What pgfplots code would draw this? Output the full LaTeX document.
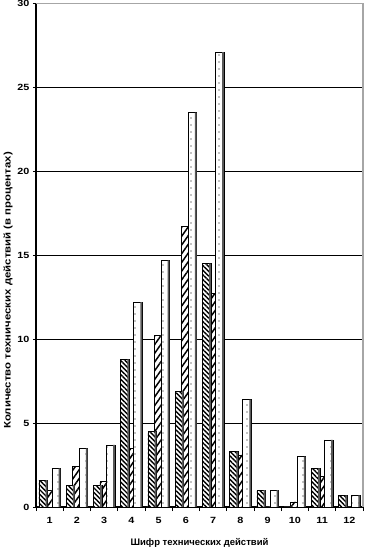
\documentclass[border=0pt]{standalone}
\usepackage{pgfplots}
\pgfplotsset{compat=1.18}
\usetikzlibrary{patterns.meta}
\usepackage{fontspec}
\setmainfont{Liberation Sans}
\newfontfamily\widefont{Liberation Sans}[FakeStretch=1.2]

\pgfplotstableread{
cat s1 s2 s3
1 1.6 1.0 2.3
2 1.3 2.4 3.5
3 1.3 1.5 3.7
4 8.8 3.5 12.2
5 4.5 10.2 14.7
6 6.9 16.7 23.5
7 14.5 12.7 27.1
8 3.3 3.1 6.4
9 1.0 0 1.0
10 0 0.3 3.0
11 2.3 1.8 4.0
12 0.7 0 0.7
}\datatable

\begin{document}
\begin{tikzpicture}
\path[use as bounding box] (-36pt,-41pt) rectangle (328pt,507pt);
\begin{axis}[
  at={(0,0)}, anchor=south west,
  scale only axis, width=327pt, height=503.5pt,
  xmin=0.5, xmax=12.5, ymin=0, ymax=30,
  axis lines=left, axis line style={-, black, line width=1.6pt},
  ytick={0,5,...,30},
  xtick={1,...,12},
  minor xtick={0.5,1.5,...,12.5},
  major x tick style={draw=none},
  minor x tick style={draw=black, line width=0.8pt},
  minor tick length=4pt,
  major tick length=3pt,
  ytick style={black, line width=0.8pt},
  tick align=outside,
  ymajorgrids, major grid style={black, line width=0.8pt},
  /pgf/number format/assume math mode=true,
  ticklabel style={font=\widefont\bfseries\fontsize{9}{10}\selectfont},
  xticklabel style={yshift=-4pt},
  ylabel={Количество технических действий (в процентах)},
  xlabel={Шифр технических действий},
  every axis y label/.style={at={(axis description cs:-0.0856,0.43)}, rotate=90, anchor=center, font=\widefont\bfseries\fontsize{9.5}{10}\selectfont},
  every axis x label/.style={at={(axis description cs:0.5,-0.0713)}, anchor=center, font=\bfseries\fontsize{9.5}{10}\selectfont},
  ybar, bar width=8.5pt,
  clip=false,
]
\addplot[ybar, bar width=8.5pt, bar shift=0pt, draw=black, line width=0.7pt,
  preaction={fill=white}, pattern={Lines[angle=55,distance=5pt,line width=1.5pt]}]
  table[x=cat, y=s2] {\datatable};
\addplot[ybar, bar width=1.8pt, bar shift=3.35pt, draw=none, fill=black!65]
  table[x=cat, y=s2] {\datatable};
\addplot[ybar, bar width=8.5pt, bar shift=-6.5pt, draw=black, line width=0.7pt,
  preaction={fill=white}, pattern={Lines[angle=-45,distance=3.3pt,line width=1.4pt]}]
  table[x=cat, y=s1] {\datatable};
\addplot[ybar, bar width=1.8pt, bar shift=-3.15pt, draw=none, fill=black!65]
  table[x=cat, y=s1] {\datatable};
\addplot[ybar, bar width=8.5pt, bar shift=6.5pt, draw=black, line width=0.7pt,
  preaction={fill=white}, pattern={Dots[distance=6.5pt,radius=0.65pt]}]
  table[x=cat, y=s3] {\datatable};
\addplot[ybar, bar width=1.8pt, bar shift=9.85pt, draw=none, fill=black!65]
  table[x=cat, y=s3] {\datatable};
\draw[gray!70, line width=1.4pt] (rel axis cs:0,1) -- (rel axis cs:1,1) -- (rel axis cs:1,0);
\end{axis}
\end{tikzpicture}
\end{document}
